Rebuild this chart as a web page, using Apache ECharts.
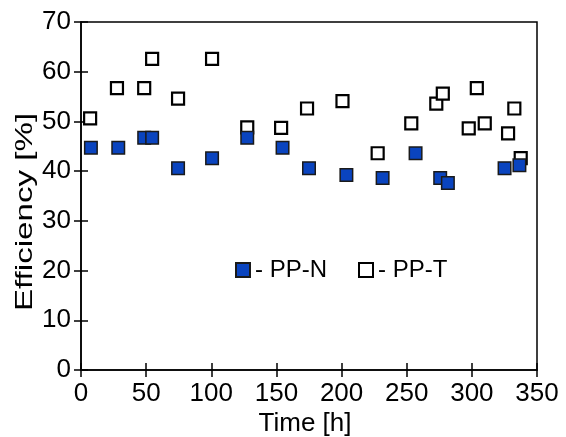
<!DOCTYPE html>
<html>
<head>
<meta charset="utf-8">
<script src="https://cdn.jsdelivr.net/npm/echarts@6/dist/echarts.min.js"></script>
<style>
html,body{margin:0;padding:0;background:#fff;}
#chart{width:566px;height:437px;}
</style>
</head>
<body>
<div id="chart"></div>
<script>
// Data
var ppN_time = [7.6, 28.6, 48.5, 54.6, 74.5, 100.6, 127.6, 154.7, 175.0, 203.7, 231.5, 256.8, 275.7, 281.6, 325.1, 336.5];
var ppN_eff  = [44.7, 44.7, 46.7, 46.7, 40.6, 42.6, 46.7, 44.7, 40.6, 39.2, 38.6, 43.6, 38.6, 37.6, 40.6, 41.2];
var ppT_time = [7.0, 27.6, 48.5, 54.6, 74.5, 100.6, 127.6, 153.6, 173.5, 200.7, 227.7, 253.5, 272.7, 277.7, 297.6, 303.8, 309.9, 327.8, 332.6, 337.5];
var ppT_eff  = [50.6, 56.7, 56.7, 62.6, 54.6, 62.6, 48.8, 48.7, 52.6, 54.1, 43.6, 49.6, 53.6, 55.6, 48.6, 56.7, 49.6, 47.6, 52.6, 42.6];
var seriesNames = ['PP-N', 'PP-T'];
var xTitle = 'Time [h]';
var yTitle = 'Efficiency [%]';

function pairs(xs, ys) { return xs.map(function (x, i) { return [x, ys[i]]; }); }

var FONT = '"Liberation Sans", Arial, sans-serif';
var chart = echarts.init(document.getElementById('chart'), null, {renderer: 'canvas'});

var axisCommonX = {type: 'value', min: 0, max: 350, interval: 50, splitLine: {show: false}};
var axisCommonY = {type: 'value', min: 0, max: 70, interval: 10, splitLine: {show: false}};

chart.setOption({
  animation: false,
  backgroundColor: '#fff',
  grid: {left: 81, right: 29, top: 22, bottom: 67, show: true, borderColor: '#000', borderWidth: 1.5, backgroundColor: 'transparent'},
  xAxis: [
    Object.assign({}, axisCommonX, {
      position: 'bottom',
      axisLine: {show: true, onZero: false, lineStyle: {color: '#000', width: 1.5}},
      axisTick: {show: true, inside: false, length: 7, lineStyle: {color: '#000', width: 1.5}},
      axisLabel: {fontSize: 26, color: '#000', fontFamily: FONT, margin: 11}
    }),
    Object.assign({}, axisCommonX, {
      position: 'bottom',
      axisLine: {show: false, onZero: false},
      axisTick: {show: true, inside: true, length: 7, lineStyle: {color: '#000', width: 1.5}},
      axisLabel: {show: false}
    })
  ],
  yAxis: [
    Object.assign({}, axisCommonY, {
      position: 'left',
      axisLine: {show: true, onZero: false, lineStyle: {color: '#000', width: 1.5}},
      axisTick: {show: true, inside: false, length: 7, lineStyle: {color: '#000', width: 1.5}},
      axisLabel: {fontSize: 26, color: '#000', fontFamily: FONT, margin: 10}
    }),
    Object.assign({}, axisCommonY, {
      position: 'left',
      axisLine: {show: false, onZero: false},
      axisTick: {show: true, inside: true, length: 7, lineStyle: {color: '#000', width: 1.5}},
      axisLabel: {show: false}
    })
  ],
  legend: {
    data: seriesNames,
    left: 230,
    top: 253,
    itemWidth: 14,
    itemHeight: 14,
    itemGap: 31,
    formatter: function (n) { return '- ' + n; },
    textStyle: {fontSize: 24, color: '#000', fontFamily: FONT}
  },
  graphic: [
    {type: 'text', x: 305, y: 424, silent: true,
     style: {text: xTitle, fontSize: 26, fontFamily: FONT, fill: '#000', textAlign: 'center', textVerticalAlign: 'middle'}},
    {type: 'text', x: 25, y: 212, rotation: Math.PI / 2, scaleX: 1.38, silent: true,
     style: {text: yTitle, fontSize: 24, fontFamily: FONT, fill: '#000', textAlign: 'center', textVerticalAlign: 'middle'}}
  ],
  series: [
    {
      name: seriesNames[1], type: 'scatter', xAxisIndex: 0, yAxisIndex: 0,
      symbol: 'rect', symbolSize: 12,
      itemStyle: {color: '#fff', borderColor: '#000', borderWidth: 2.2, opacity: 1},
      emphasis: {disabled: true},
      data: pairs(ppT_time, ppT_eff)
    },
    {
      name: seriesNames[0], type: 'scatter', xAxisIndex: 0, yAxisIndex: 0,
      symbol: 'rect', symbolSize: 12.5,
      itemStyle: {color: '#0A44BF', borderColor: '#1a1a1a', borderWidth: 1.5, opacity: 1},
      emphasis: {disabled: true},
      data: pairs(ppN_time, ppN_eff)
    }
  ]
});
</script>
</body>
</html>
